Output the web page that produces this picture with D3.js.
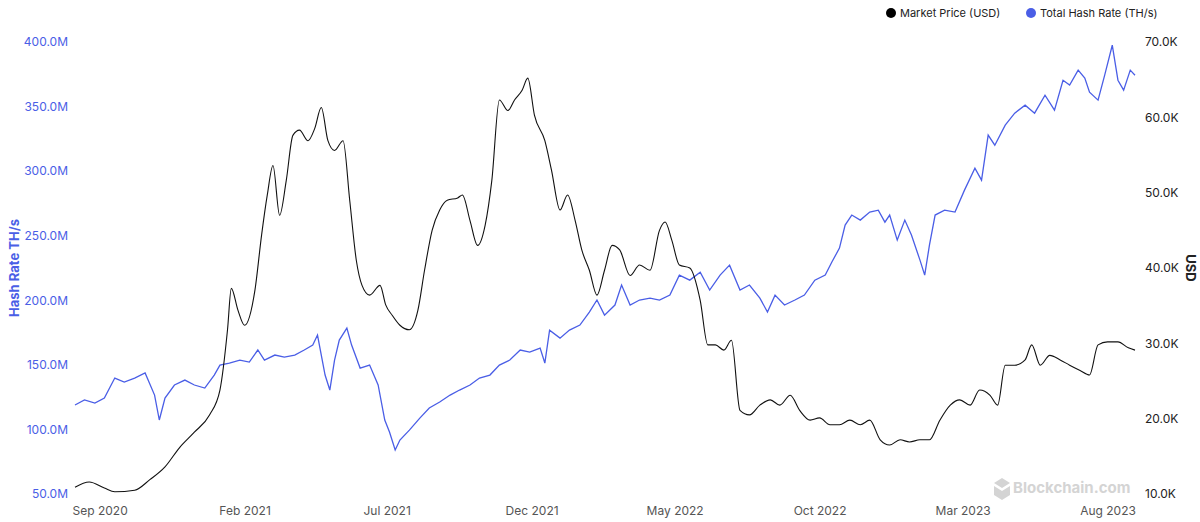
<!DOCTYPE html>
<html>
<head>
<meta charset="utf-8">
<script src="https://cdn.jsdelivr.net/npm/d3@7.9.0/dist/d3.min.js"></script>
<style>
  body { margin: 0; background: #fff; font-family: Inter, "Noto Sans", sans-serif; }
  svg text { font-family: Inter, "Noto Sans", sans-serif; }
</style>
</head>
<body>
<svg id="chart" width="1200" height="522"></svg>
<script>
// Market price (USD, thousands)
const priceData = [
  ['2020-08-06',10.9],['2020-08-21',11.6],['2020-09-06',10.8],['2020-09-17',10.3],['2020-10-08',10.5],
  ['2020-10-24',11.9],['2020-11-09',13.6],['2020-11-24',16.1],['2020-12-10',18.2],['2020-12-26',20.5],
  ['2021-01-06',23.8],['2021-01-14',31.8],['2021-01-18',37.3],['2021-01-25',34.4],['2021-02-01',32.4],
  ['2021-02-12',37.1],['2021-02-19',44.4],['2021-02-25',49.7],['2021-03-03',53.6],['2021-03-10',47.0],
  ['2021-03-17',51.6],['2021-03-24',57.6],['2021-03-31',58.3],['2021-04-09',56.9],['2021-04-16',58.5],
  ['2021-04-23',61.3],['2021-04-30',56.9],['2021-05-07',55.6],['2021-05-16',56.9],['2021-05-23',49.0],
  ['2021-05-30',41.0],['2021-06-05',37.7],['2021-06-13',36.4],['2021-06-24',37.7],['2021-06-30',35.1],
  ['2021-07-07',33.7],['2021-07-15',32.4],['2021-07-25',31.8],['2021-08-03',34.4],['2021-08-10',39.7],
  ['2021-08-18',45.0],['2021-08-26',47.7],['2021-09-03',49.0],['2021-09-14',49.3],['2021-09-19',49.7],
  ['2021-09-27',46.3],['2021-10-05',43.0],['2021-10-13',45.7],['2021-10-20',51.6],['2021-10-28',62.3],
  ['2021-11-06',60.9],['2021-11-13',62.3],['2021-11-21',63.6],['2021-11-27',65.2],['2021-12-04',60.3],
  ['2021-12-15',56.9],['2021-12-22',53.0],['2021-12-31',47.7],['2022-01-08',49.7],['2022-01-16',46.3],
  ['2022-01-23',42.4],['2022-01-31',39.7],['2022-02-08',36.4],['2022-02-16',39.7],['2022-02-24',43.0],
  ['2022-03-04',42.4],['2022-03-15',39.0],['2022-03-25',40.4],['2022-04-05',39.7],['2022-04-15',45.0],
  ['2022-04-21',46.1],['2022-04-28',43.7],['2022-05-06',40.4],['2022-05-17',40.0],['2022-05-28',35.7],
  ['2022-06-05',29.8],['2022-06-13',29.8],['2022-06-22',29.1],['2022-06-30',30.4],['2022-07-09',21.1],
  ['2022-07-19',20.5],['2022-07-30',21.8],['2022-08-10',22.5],['2022-08-20',21.8],['2022-08-31',23.1],
  ['2022-09-10',21.1],['2022-09-21',19.8],['2022-10-01',20.1],['2022-10-12',19.2],['2022-10-22',19.2],
  ['2022-11-02',19.8],['2022-11-13',19.2],['2022-11-23',19.8],['2022-12-04',17.2],['2022-12-14',16.5],
  ['2022-12-25',17.2],['2023-01-04',16.9],['2023-01-15',17.2],['2023-01-25',17.2],['2023-02-05',19.8],
  ['2023-02-16',21.8],['2023-02-26',22.5],['2023-03-09',21.8],['2023-03-19',23.8],['2023-03-30',23.1],
  ['2023-04-07',21.8],['2023-04-15',27.1],['2023-04-25',27.1],['2023-05-06',27.8],['2023-05-13',29.8],
  ['2023-05-22',27.1],['2023-06-01',28.4],['2023-06-12',27.8],['2023-06-22',27.1],['2023-07-03',26.4],
  ['2023-07-13',25.8],['2023-07-22',29.8],['2023-08-01',30.2],['2023-08-12',30.2],['2023-08-23',29.4],
  ['2023-08-30',29.1]
];

// Total hash rate (millions TH/s)
const hashData = [
  ['2020-08-06',118.9],['2020-08-16',122.8],['2020-08-27',120.4],['2020-09-06',124.3],['2020-09-17',139.8],
  ['2020-09-27',136.7],['2020-10-08',139.8],['2020-10-19',143.7],['2020-10-29',126.6],['2020-11-03',107.3],
  ['2020-11-09',124.3],['2020-11-19',134.4],['2020-11-30',138.2],['2020-12-10',134.4],['2020-12-21',132.0],
  ['2020-12-31',142.1],['2021-01-06',149.8],['2021-01-16',151.4],['2021-01-27',153.7],['2021-02-06',152.2],
  ['2021-02-15',161.5],['2021-02-22',153.7],['2021-03-05',157.6],['2021-03-15',156.0],['2021-03-26',157.6],
  ['2021-04-05',161.5],['2021-04-14',165.3],['2021-04-19',173.1],['2021-04-23',157.6],['2021-04-27',142.1],
  ['2021-05-02',130.5],['2021-05-07',153.7],['2021-05-12',169.2],['2021-05-20',178.5],['2021-05-25',165.3],
  ['2021-06-03',147.5],['2021-06-13',149.8],['2021-06-22',134.4],['2021-06-29',107.3],['2021-07-04',98.0],
  ['2021-07-10',84.1],['2021-07-15',91.8],['2021-07-25',99.5],['2021-08-05',108.8],['2021-08-15',116.6],
  ['2021-08-26',121.2],['2021-09-06',126.6],['2021-09-16',130.5],['2021-09-27',134.4],['2021-10-07',139.8],
  ['2021-10-18',142.1],['2021-10-28',149.8],['2021-11-08',153.7],['2021-11-19',161.5],['2021-11-29',159.9],
  ['2021-12-10',163.0],['2021-12-15',151.4],['2021-12-20',176.9],['2021-12-31',170.7],['2022-01-10',176.9],
  ['2022-01-21',180.8],['2022-01-31',190.9],['2022-02-08',200.2],['2022-02-16',188.5],['2022-02-27',196.3],
  ['2022-03-06',211.8],['2022-03-15',196.3],['2022-03-25',200.2],['2022-04-05',201.7],['2022-04-15',200.2],
  ['2022-04-26',204.0],['2022-05-06',219.5],['2022-05-17',215.6],['2022-05-28',221.8],['2022-06-07',207.9],
  ['2022-06-18',219.5],['2022-06-28',227.2],['2022-07-09',207.9],['2022-07-19',211.8],['2022-07-30',201.7],
  ['2022-08-07',190.9],['2022-08-15',204.0],['2022-08-25',196.3],['2022-09-05',200.2],['2022-09-15',204.0],
  ['2022-09-26',215.6],['2022-10-07',219.5],['2022-10-14',229.6],['2022-10-22',240.4],['2022-10-28',258.2],
  ['2022-11-04',266.0],['2022-11-13',262.1],['2022-11-23',268.3],['2022-12-02',269.8],['2022-12-09',260.5],
  ['2022-12-14',266.0],['2022-12-22',246.6],['2022-12-30',262.1],['2023-01-06',250.5],['2023-01-15',231.1],
  ['2023-01-20',219.5],['2023-01-25',242.7],['2023-01-31',266.0],['2023-02-10',269.8],['2023-02-21',268.3],
  ['2023-03-03',285.3],['2023-03-14',302.3],['2023-03-21',293.0],['2023-03-28',327.9],['2023-04-04',320.1],
  ['2023-04-15',335.6],['2023-04-25',344.9],['2023-05-06',351.1],['2023-05-16',344.9],['2023-05-27',358.8],
  ['2023-06-06',347.2],['2023-06-15',370.4],['2023-06-22',366.6],['2023-07-01',378.2],['2023-07-08',372.0],
  ['2023-07-13',361.1],['2023-07-22',355.0],['2023-07-29',374.3],['2023-08-06',397.5],['2023-08-12',370.4],
  ['2023-08-18',362.7],['2023-08-25',378.2],['2023-08-30',374.3]
];

const hashTicks = [50, 100, 150, 200, 250, 300, 350, 400];
const priceTicks = [10, 20, 30, 40, 50, 60, 70];
const dateTicks = ['2020-09-01','2021-02-01','2021-07-01','2021-12-01','2022-05-01','2022-10-01','2023-03-01','2023-08-01'];

const parse = d3.timeParse('%Y-%m-%d');
const svg = d3.select('#chart');
const blue = '#4a5ee6';

const x = d3.scaleTime()
  .domain([parse('2020-08-06'), parse('2023-08-30')])
  .range([75, 1135]);
const yHash = d3.scaleLinear().domain([50, 400]).range([494, 42]);
const yPrice = d3.scaleLinear().domain([10, 70]).range([494, 42]);

// axes
const xAxis = svg.append('g').attr('transform', 'translate(0,500)')
  .call(d3.axisBottom(x).tickValues(dateTicks.map(parse)).tickFormat(d3.timeFormat('%b %Y')).tickSize(0));
xAxis.select('.domain').remove();
xAxis.selectAll('text').attr('fill', '#555').attr('font-size', 12).attr('dy', '1em');

const yl = svg.append('g').attr('transform', 'translate(70,0)')
  .call(d3.axisLeft(yHash).tickValues(hashTicks).tickFormat(d => d.toFixed(1) + 'M').tickSize(0));
yl.select('.domain').remove();
yl.selectAll('text').attr('fill', blue).attr('font-size', 12).attr('x', -2);

const yr = svg.append('g').attr('transform', 'translate(1143,0)')
  .call(d3.axisRight(yPrice).tickValues(priceTicks).tickFormat(d => d.toFixed(1) + 'K').tickSize(0));
yr.select('.domain').remove();
yr.selectAll('text').attr('fill', '#222').attr('font-size', 12).attr('x', 2);

svg.append('text').attr('transform', 'translate(19,268) rotate(-90)')
  .attr('text-anchor', 'middle').attr('fill', blue).attr('font-size', 13).attr('font-weight', 700)
  .text('Hash Rate TH/s');
svg.append('text').attr('transform', 'translate(1186,268) rotate(90)')
  .attr('text-anchor', 'middle').attr('fill', '#222').attr('font-size', 13).attr('font-weight', 700)
  .text('USD');

// watermark
const wm = svg.append('g').attr('fill', '#d4d4d4');
wm.append('path').attr('d', 'M1002,478 l8,5 l-8,5 l-8,-5 z M994,486 l8,5 v9 l-8,-5 z M1010,486 v9 l-8,5 v-9 z');
wm.append('text').attr('x', 1013).attr('y', 493).attr('font-size', 15).attr('font-weight', 700).text('Blockchain.com');

// lines
svg.append('path').datum(hashData)
  .attr('fill', 'none').attr('stroke', blue).attr('stroke-width', 1.3)
  .attr('d', d3.line().x(d => x(parse(d[0]))).y(d => yHash(d[1])));
svg.append('path').datum(priceData)
  .attr('fill', 'none').attr('stroke', '#111').attr('stroke-width', 1.1)
  .attr('d', d3.line().curve(d3.curveMonotoneX).x(d => x(parse(d[0]))).y(d => yPrice(d[1])));

// legend
const legend = [['Market Price (USD)', '#000', 891], ['Total Hash Rate (TH/s)', blue, 1031]];
legend.forEach(([label, c, lx]) => {
  svg.append('circle').attr('cx', lx).attr('cy', 13).attr('r', 5).attr('fill', c);
  svg.append('text').attr('x', lx + 9).attr('y', 17).attr('font-size', 11).attr('fill', '#222').text(label);
});
</script>
</body>
</html>
